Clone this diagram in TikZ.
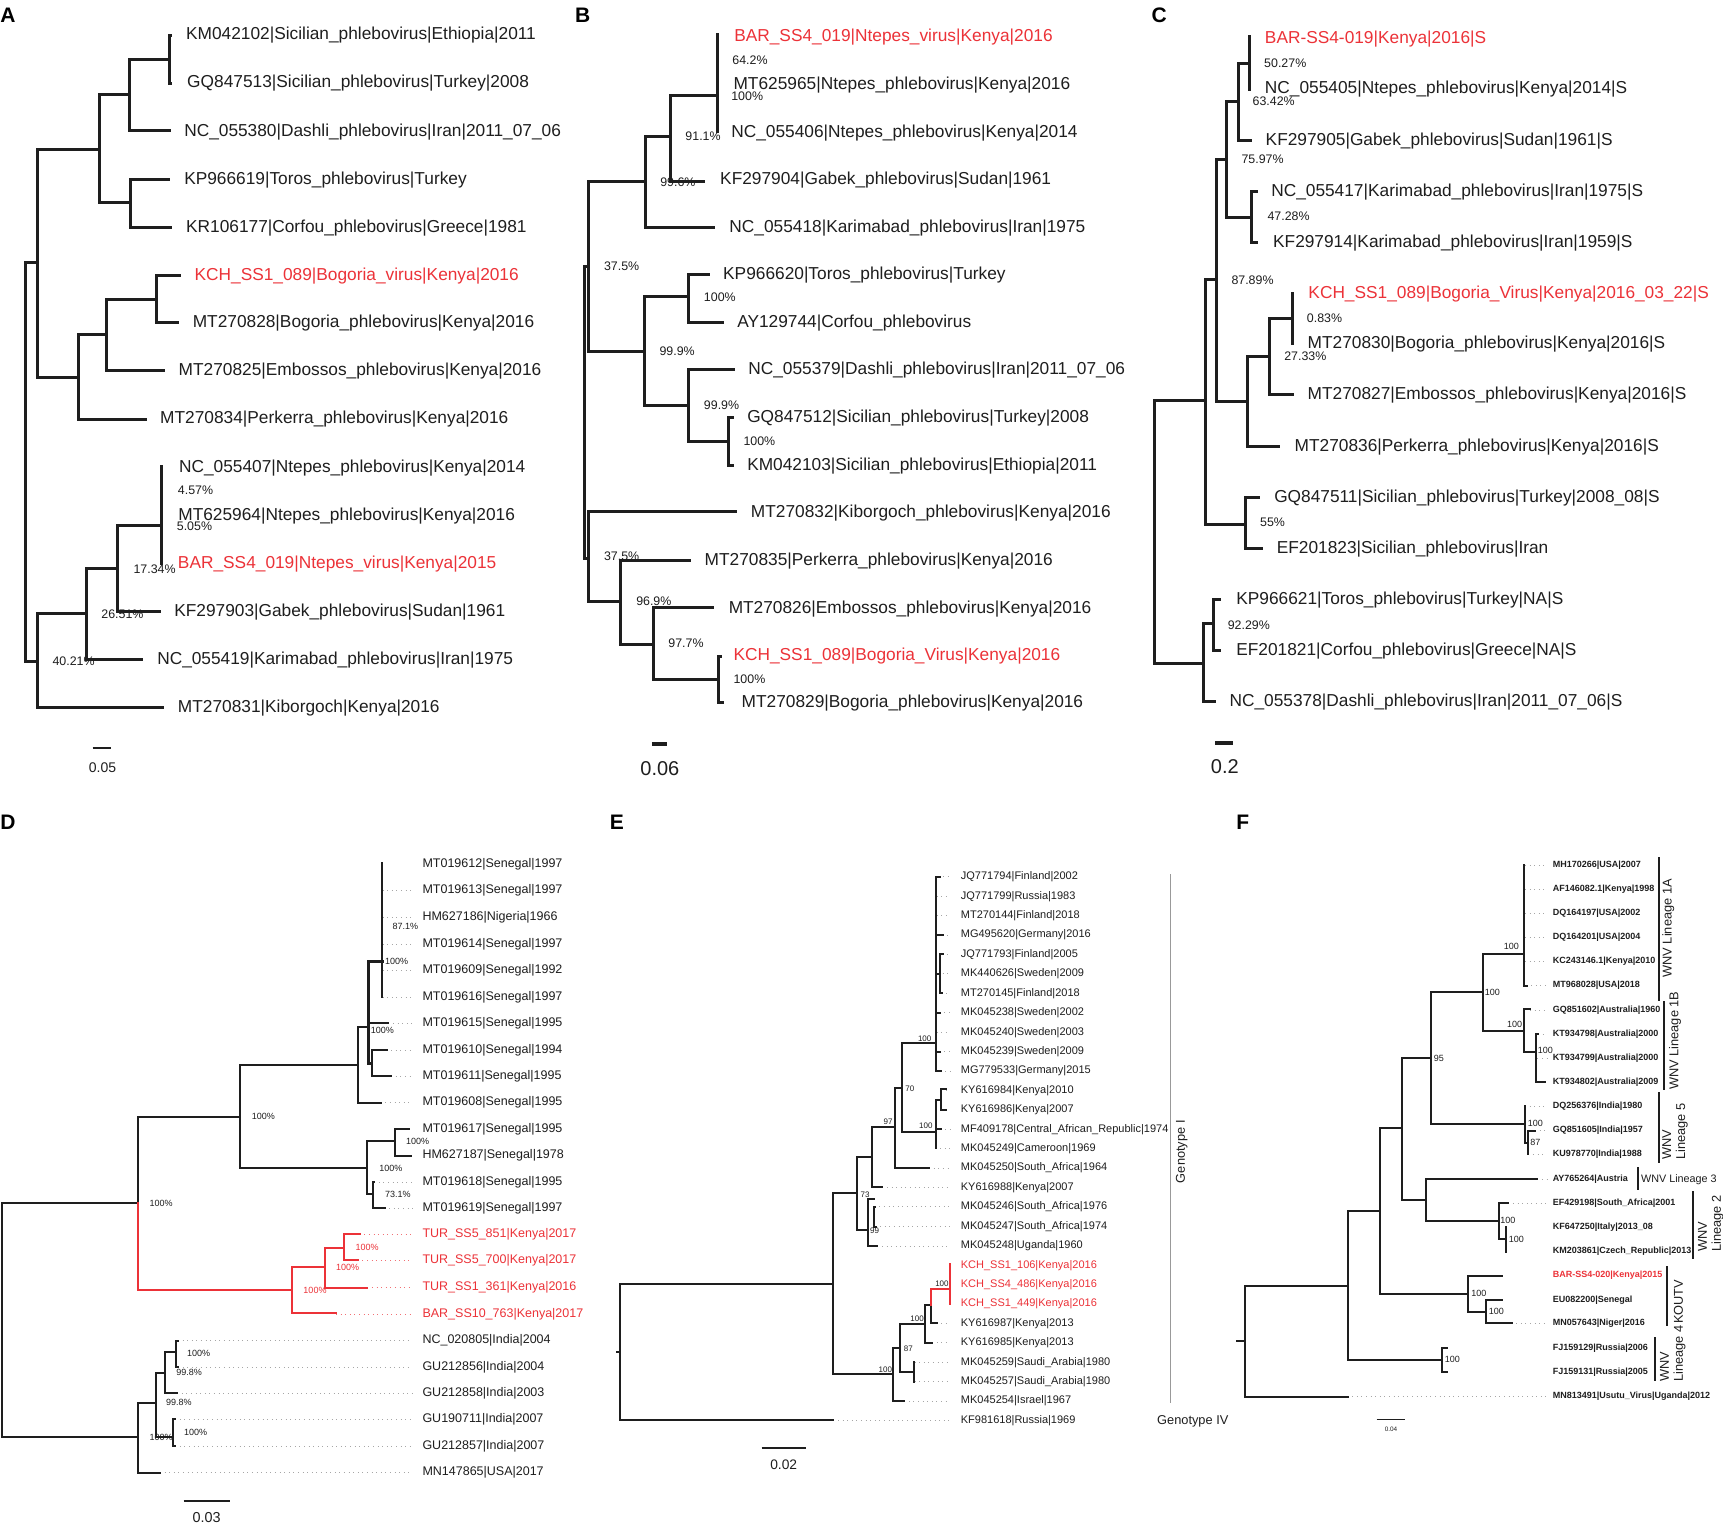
\documentclass[tikz,border=0pt]{standalone}
\usepackage{fontspec}
\setmainfont{Liberation Sans}
\definecolor{vred}{RGB}{236,50,56}
\definecolor{ink}{RGB}{30,30,30}
\tikzset{
 brA/.style={draw=ink,line width=1.5pt,line cap=rect},
 brD/.style={draw=ink,line width=1pt,line cap=rect},
 brF/.style={draw=ink,line width=1.1pt,line cap=rect},
 lfA/.style={anchor=west,inner sep=0pt,text=ink,font=\fontsize{8.65}{9}\selectfont},
 bsA/.style={anchor=west,inner sep=0pt,text=ink,font=\fontsize{6.2}{7}\selectfont},
 lfD/.style={anchor=west,inner sep=0pt,text=ink,font=\fontsize{6.25}{7}\selectfont},
 bsD/.style={anchor=west,inner sep=0pt,text=ink,font=\fontsize{4.5}{5}\selectfont},
 lfE/.style={anchor=west,inner sep=0pt,text=ink,font=\fontsize{5.5}{6}\selectfont},
 bsE/.style={anchor=west,inner sep=0pt,text=ink,font=\fontsize{4}{5}\selectfont},
 lfF/.style={anchor=west,inner sep=0pt,text=ink,font=\fontsize{4.5}{5}\selectfont\bfseries},
 bsF/.style={anchor=west,inner sep=0pt,text=ink,font=\fontsize{4.5}{5}\selectfont},
 grp/.style={inner sep=0pt,text=ink,font=\fontsize{6.4}{7}\selectfont},
 tag/.style={anchor=west,inner sep=0pt,font=\fontsize{10.5}{12}\selectfont\bfseries},
 lead/.style={draw=gray!70,line width=0.3pt,dotted},
 rlead/.style={draw=vred!70,line width=0.3pt,dotted},
 sbar/.style={draw=ink,line width=1pt},
}
\begin{document}
\begin{tikzpicture}
\useasboundingbox (0pt,0pt) rectangle (861.5pt,-761.5pt);
\fill[white] (0pt,0pt) rectangle (861.5pt,-761.5pt);
% ================= Panel A =================
\begin{scope}[shift={(0pt,0pt)},x=0.185pt,y=-0.16667pt]
\node[tag] (tA) at (0,47) {A};
\draw[brA] (462,105) -| (457,250) -- (462,250);
\draw[brA] (457,178) -| (349,392) -- (457,392);
\draw[brA] (349,283) -| (270,607) -- (352,607);
\draw[brA] (455,537) -| (352,683) -- (462,683);
\draw[brA] (270,448) -| (100,1133) -- (212,1133);
\draw[brA] (100,787) -| (68,1985) -- (100,1985);
\draw[brA] (287,1004) -| (212,1257) -- (392,1257);
\draw[brA] (424,897) -| (287,1112) -- (443,1112);
\draw[brA] (485,825) -| (424,968) -- (480,968);
\draw[brA] (233,1840) -| (100,2122) -- (440,2122);
\draw[brA] (318,1705) -| (233,1978) -- (382,1978);
\draw[brA] (437,1577) -| (318,1833) -- (430,1833);
\draw[brA] (437,1400) -- (437,1690);
\node[lfA] (a1) at (502,105) {KM042102|Sicilian\_phlebovirus|Ethiopia|2011};
\node[lfA] (a2) at (505,250) {GQ847513|Sicilian\_phlebovirus|Turkey|2008};
\node[lfA] (a3) at (497,395) {NC\_055380|Dashli\_phlebovirus|Iran|2011\_07\_06};
\node[lfA] (a4) at (497,540) {KP966619|Toros\_phlebovirus|Turkey};
\node[lfA] (a5) at (502,685) {KR106177|Corfou\_phlebovirus|Greece|1981};
\node[lfA,text=vred] (a6) at (525,827) {KCH\_SS1\_089|Bogoria\_virus|Kenya|2016};
\node[lfA] (a7) at (520,970) {MT270828|Bogoria\_phlebovirus|Kenya|2016};
\node[lfA] (a8) at (482,1113) {MT270825|Embossos\_phlebovirus|Kenya|2016};
\node[lfA] (a9) at (432,1258) {MT270834|Perkerra\_phlebovirus|Kenya|2016};
\node[lfA] (a10) at (483,1403) {NC\_055407|Ntepes\_phlebovirus|Kenya|2014};
\node[lfA] (a11) at (481,1547) {MT625964|Ntepes\_phlebovirus|Kenya|2016};
\node[lfA,text=vred] (a12) at (480,1692) {BAR\_SS4\_019|Ntepes\_virus|Kenya|2015};
\node[lfA] (a13) at (470,1835) {KF297903|Gabek\_phlebovirus|Sudan|1961};
\node[lfA] (a14) at (424,1980) {NC\_055419|Karimabad\_phlebovirus|Iran|1975};
\node[lfA] (a15) at (480,2125) {MT270831|Kiborgoch|Kenya|2016};
\node[bsA] (ab1) at (480,1472) {4.57\%};
\node[bsA] (ab2) at (477,1580) {5.05\%};
\node[bsA] (ab3) at (360,1708) {17.34\%};
\node[bsA] (ab4) at (273,1843) {26.51\%};
\node[bsA] (ab5) at (141,1983) {40.21\%};
\draw[sbar] (250,2245) -- (300,2245);
\node[inner sep=0pt,text=ink,font=\fontsize{7}{8}\selectfont] (as) at (277,2303) {0.05};
\end{scope}
% ================= Panel B =================
\begin{scope}[shift={(280pt,0pt)},x=0.185pt,y=-0.16667pt]
\node[tag] (tB) at (40,45) {B};
\draw[brA] (425,103) -- (425,395);
\draw[brA] (425,287) -| (298,543) -- (388,543);
\draw[brA] (298,410) -| (230,683) -- (415,683);
\draw[brA] (230,545) -| (77,1055) -- (228,1055);
\draw[brA] (346,890) -| (228,1215) -- (346,1215);
\draw[brA] (400,823) -| (346,968) -- (440,968);
\draw[brA] (468,1108) -| (346,1323) -- (455,1323);
\draw[brA] (465,1252) -| (455,1395) -- (465,1395);
\draw[brA] (77,800) -| (65,1675) -- (77,1675);
\draw[brA] (475,1535) -| (77,1803) -- (163,1803);
\draw[brA] (350,1680) -| (163,1932) -- (253,1932);
\draw[brA] (413,1823) -| (253,2037) -- (428,2037);
\draw[brA] (435,1968) -| (428,2108) -- (440,2108);
\node[lfA,text=vred] (b1) at (470,110) {BAR\_SS4\_019|Ntepes\_virus|Kenya|2016};
\node[lfA] (b2) at (468,255) {MT625965|Ntepes\_phlebovirus|Kenya|2016};
\node[lfA] (b3) at (462,398) {NC\_055406|Ntepes\_phlebovirus|Kenya|2014};
\node[lfA] (b4) at (432,540) {KF297904|Gabek\_phlebovirus|Sudan|1961};
\node[lfA] (b5) at (457,683) {NC\_055418|Karimabad\_phlebovirus|Iran|1975};
\node[lfA] (b6) at (440,826) {KP966620|Toros\_phlebovirus|Turkey};
\node[lfA] (b7) at (478,970) {AY129744|Corfou\_phlebovirus};
\node[lfA] (b8) at (508,1110) {NC\_055379|Dashli\_phlebovirus|Iran|2011\_07\_06};
\node[lfA] (b9) at (505,1255) {GQ847512|Sicilian\_phlebovirus|Turkey|2008};
\node[lfA] (b10) at (505,1397) {KM042103|Sicilian\_phlebovirus|Ethiopia|2011};
\node[lfA] (b11) at (515,1540) {MT270832|Kiborgoch\_phlebovirus|Kenya|2016};
\node[lfA] (b12) at (390,1683) {MT270835|Perkerra\_phlebovirus|Kenya|2016};
\node[lfA] (b13) at (455,1826) {MT270826|Embossos\_phlebovirus|Kenya|2016};
\node[lfA,text=vred] (b14) at (468,1968) {KCH\_SS1\_089|Bogoria\_Virus|Kenya|2016};
\node[lfA] (b15) at (490,2110) {MT270829|Bogoria\_phlebovirus|Kenya|2016};
\node[bsA] (bb1) at (465,180) {64.2\%};
\node[bsA] (bb2) at (462,290) {100\%};
\node[bsA] (bb3) at (338,410) {91.1\%};
\node[bsA] (bb4) at (270,547) {99.6\%};
\node[bsA] (bb5) at (118,800) {37.5\%};
\node[bsA] (bb6) at (388,893) {100\%};
\node[bsA] (bb7) at (268,1055) {99.9\%};
\node[bsA] (bb8) at (388,1215) {99.9\%};
\node[bsA] (bb9) at (495,1323) {100\%};
\node[bsA] (bb10) at (118,1670) {37.5\%};
\node[bsA] (bb11) at (205,1805) {96.9\%};
\node[bsA] (bb12) at (292,1930) {97.7\%};
\node[bsA] (bb13) at (468,2037) {100\%};
\draw[draw=ink,line width=2pt] (248,2233) -- (290,2233);
\node[inner sep=0pt,text=ink,font=\fontsize{10}{11}\selectfont] (bs) at (270,2305) {0.06};
\end{scope}
% ================= Panel C =================
\begin{scope}[shift={(570pt,0pt)},x=0.1859pt,y=-0.16667pt]
\node[tag] (tC) at (30,45) {C};
\draw[brA] (295,110) -- (295,268);
\draw[brA] (295,190) -| (265,420) -- (298,420);
\draw[brA] (265,305) -| (233,652) -- (300,652);
\draw[brA] (312,575) -| (300,728) -- (312,728);
\draw[brA] (233,478) -| (205,1205) -- (290,1205);
\draw[brA] (347,1070) -| (290,1340) -- (373,1340);
\draw[brA] (410,955) -| (347,1183) -- (410,1183);
\draw[brA] (410,880) -- (410,1030);
\draw[brA] (205,838) -| (177,1572) -- (283,1572);
\draw[brA] (320,1493) -| (283,1645) -- (327,1645);
\draw[brA] (177,1202) -| (40,1990) -- (172,1990);
\draw[brA] (197,1870) -| (172,2105) -- (200,2105);
\draw[brA] (215,1798) -| (197,1952) -- (215,1952);
\node[lfA,text=vred] (c1) at (335,117) {BAR-SS4-019|Kenya|2016|S};
\node[lfA] (c2) at (335,268) {NC\_055405|Ntepes\_phlebovirus|Kenya|2014|S};
\node[lfA] (c3) at (337,422) {KF297905|Gabek\_phlebovirus|Sudan|1961|S};
\node[lfA] (c4) at (352,575) {NC\_055417|Karimabad\_phlebovirus|Iran|1975|S};
\node[lfA] (c5) at (357,728) {KF297914|Karimabad\_phlebovirus|Iran|1959|S};
\node[lfA,text=vred] (c6) at (452,882) {KCH\_SS1\_089|Bogoria\_Virus|Kenya|2016\_03\_22|S};
\node[lfA] (c7) at (450,1033) {MT270830|Bogoria\_phlebovirus|Kenya|2016|S};
\node[lfA] (c8) at (450,1185) {MT270827|Embossos\_phlebovirus|Kenya|2016|S};
\node[lfA] (c9) at (415,1340) {MT270836|Perkerra\_phlebovirus|Kenya|2016|S};
\node[lfA] (c10) at (360,1493) {GQ847511|Sicilian\_phlebovirus|Turkey|2008\_08|S};
\node[lfA] (c11) at (367,1647) {EF201823|Sicilian\_phlebovirus|Iran};
\node[lfA] (c12) at (258,1800) {KP966621|Toros\_phlebovirus|Turkey|NA|S};
\node[lfA] (c13) at (258,1953) {EF201821|Corfou\_phlebovirus|Greece|NA|S};
\node[lfA] (c14) at (240,2105) {NC\_055378|Dashli\_phlebovirus|Iran|2011\_07\_06|S};
\node[bsA] (cb1) at (333,190) {50.27\%};
\node[bsA] (cb2) at (302,305) {63.42\%};
\node[bsA] (cb3) at (272,478) {75.97\%};
\node[bsA] (cb4) at (342,650) {47.28\%};
\node[bsA] (cb5) at (245,840) {87.89\%};
\node[bsA] (cb6) at (448,955) {0.83\%};
\node[bsA] (cb7) at (387,1070) {27.33\%};
\node[bsA] (cb8) at (322,1568) {55\%};
\node[bsA] (cb9) at (235,1875) {92.29\%};
\draw[draw=ink,line width=1.8pt] (203,2228) -- (250,2228);
\node[inner sep=0pt,text=ink,font=\fontsize{10}{11}\selectfont] (cs) at (228,2300) {0.2};
\end{scope}
% ================= Panel D =================
\begin{scope}[shift={(0pt,-400pt)},x=0.19135pt,y=-0.16667pt]
\node[tag] (tD) at (0,68) {D};
\foreach \u/\v in {1000/272,1000/353,1000/432,1000/512,1000/591,1015/670,1010/750,1022/828,995/908,1070/987,1075/1067,978/1147,1005/1225,465/1622,465/1702,463/1780,458/1858,458/1938,418/2018}
  \draw[lead] (\u,\v) -- (1078,\v);
\foreach \u/\v in {940/1303,935/1380,960/1463,878/1542}
  \draw[rlead] (\u,\v) -- (1078,\v);
\draw[brD] (360,1208) -| (5,1912) -- (360,1912);
\draw[brD] (628,950) -| (360,1208);
\draw[brD,draw=vred] (360,1208) |- (763,1470);
\draw[brD] (935,795) -| (628,1105) -- (960,1105);
\draw[brD] (963,680) -| (935,908) -- (995,908);
\draw[brD,line width=1.4pt] (1000,485) -| (963,790) -- (972,790);
\draw[brD] (963,670) -- (1015,670);
\draw[brD] (1010,750) -| (972,828) -- (1022,828);
\draw[brD] (998,190) -- (998,591);
\draw[brD] (1032,1022) -| (960,1183) -- (975,1183);
\draw[brD] (1070,987) -| (1032,1067) -- (1075,1067);
\draw[brD] (978,1147) -| (975,1225) -- (1005,1225);
\draw[brD,draw=vred] (848,1400) -| (763,1540) -- (878,1540);
\draw[brD,draw=vred] (900,1343) -| (848,1463) -- (960,1463);
\draw[brD,draw=vred] (940,1303) -| (900,1380) -- (935,1380);
\draw[brD] (408,1810) -| (360,2018) -- (418,2018);
\draw[brD] (432,1720) -| (408,1912) -- (453,1912);
\draw[brD] (460,1657) -| (432,1780) -- (463,1780);
\draw[brD] (465,1622) -| (460,1702) -- (465,1702);
\draw[brD] (458,1858) -| (453,1938) -- (458,1938);
\node[lfD] (d1) at (1103,193) {MT019612|Senegal|1997};
\node[lfD] (d2) at (1103,272) {MT019613|Senegal|1997};
\node[lfD] (d3) at (1103,353) {HM627186|Nigeria|1966};
\node[lfD] (d4) at (1103,432) {MT019614|Senegal|1997};
\node[lfD] (d5) at (1103,512) {MT019609|Senegal|1992};
\node[lfD] (d6) at (1103,591) {MT019616|Senegal|1997};
\node[lfD] (d7) at (1103,670) {MT019615|Senegal|1995};
\node[lfD] (d8) at (1103,750) {MT019610|Senegal|1994};
\node[lfD] (d9) at (1103,828) {MT019611|Senegal|1995};
\node[lfD] (d10) at (1103,908) {MT019608|Senegal|1995};
\node[lfD] (d11) at (1103,987) {MT019617|Senegal|1995};
\node[lfD] (d12) at (1103,1067) {HM627187|Senegal|1978};
\node[lfD] (d13) at (1103,1147) {MT019618|Senegal|1995};
\node[lfD] (d14) at (1103,1225) {MT019619|Senegal|1997};
\node[lfD,text=vred] (d15) at (1103,1303) {TUR\_SS5\_851|Kenya|2017};
\node[lfD,text=vred] (d16) at (1103,1380) {TUR\_SS5\_700|Kenya|2017};
\node[lfD,text=vred] (d17) at (1103,1463) {TUR\_SS1\_361|Kenya|2016};
\node[lfD,text=vred] (d18) at (1103,1542) {BAR\_SS10\_763|Kenya|2017};
\node[lfD] (d19) at (1103,1622) {NC\_020805|India|2004};
\node[lfD] (d20) at (1103,1702) {GU212856|India|2004};
\node[lfD] (d21) at (1103,1780) {GU212858|India|2003};
\node[lfD] (d22) at (1103,1858) {GU190711|India|2007};
\node[lfD] (d23) at (1103,1938) {GU212857|India|2007};
\node[lfD] (d24) at (1103,2018) {MN147865|USA|2017};
\node[bsD] (db1) at (1025,380) {87.1\%};
\node[bsD] (db2) at (1005,485) {100\%};
\node[bsD] (db3) at (968,690) {100\%};
\node[bsD] (db4) at (657,950) {100\%};
\node[bsD] (db5) at (1060,1025) {100\%};
\node[bsD] (db6) at (990,1105) {100\%};
\node[bsD] (db7) at (1005,1183) {73.1\%};
\node[bsD] (db8) at (390,1210) {100\%};
\node[bsD,text=vred] (db9) at (928,1343) {100\%};
\node[bsD,text=vred] (db10) at (877,1402) {100\%};
\node[bsD,text=vred] (db11) at (792,1472) {100\%};
\node[bsD] (db12) at (488,1660) {100\%};
\node[bsD] (db13) at (460,1718) {99.8\%};
\node[bsD] (db14) at (433,1808) {99.8\%};
\node[bsD] (db15) at (480,1898) {100\%};
\node[bsD] (db16) at (390,1912) {100\%};
\draw[sbar] (480,2102) -- (600,2102);
\node[inner sep=0pt,text=ink,font=\fontsize{7.2}{8}\selectfont] (ds) at (540,2153) {0.03};
\end{scope}
% ================= Panel E =================
\begin{scope}[shift={(300pt,-400pt)},x=0.19135pt,y=-0.16667pt]
\node[tag] (tE) at (25,68) {E};
\foreach \u/\v in {885/230,880/289,880/347,895/405,895/463,895/521,893/580,888/638,880/697,888/755,890/813,905/872,905/930,890/988,877/1045,860/1104,738/1162,718/1220,720/1280,725/1338,880/1570,868/1628,822/1687,822/1745,795/1803,610/1861}
  \draw[lead] (\u,\v) -- (915,\v);
\draw[brD] (44,1655) -- (52,1655);
\draw[brD] (608,1453) -| (52,1860) -- (610,1860);
\draw[brD] (672,1180) -| (608,1722) -- (765,1722);
\draw[brD] (710,1070) -| (672,1290) -- (700,1290);
\draw[brD] (772,982) -| (710,1162) -- (738,1162);
\draw[brD] (790,865) -| (772,1104) -- (860,1104);
\draw[brD] (878,730) -| (790,995) -- (877,995);
\draw[brD,line width=0.6pt] (878,230) -- (878,813);
\draw[brD] (878,230) -- (888,230);
\draw[brD] (878,405) -- (895,405);
\draw[brD] (878,521) -- (888,521);
\draw[brD] (895,463) -| (888,580) -- (893,580);
\draw[brD] (878,638) -- (888,638);
\draw[brD] (878,755) -- (888,755);
\draw[brD] (878,813) -- (890,813);
\draw[brD] (890,900) -| (877,1045);
\draw[brD] (877,988) -- (890,988);
\draw[brD] (905,868) -| (890,930) -- (905,930);
\draw[brD] (715,1198) -| (700,1338) -- (725,1338);
\draw[brD] (718,1220) -| (715,1280) -- (720,1280);
\draw[brD] (785,1643) -| (765,1803) -- (795,1803);
\draw[brD] (850,1572) -| (785,1715) -- (820,1715);
\draw[brD] (820,1687) -- (820,1745);
\draw[brD] (865,1515) -| (850,1628) -- (868,1628);
\draw[brD] (865,1515) -- (865,1570) -- (880,1570);
\draw[brD,draw=vred] (865,1515) |- (915,1468);
\draw[brD,draw=vred] (915,1392) -- (915,1512);
\node[lfE] (e1) at (942,230) {JQ771794|Finland|2002};
\node[lfE] (e2) at (942,289) {JQ771799|Russia|1983};
\node[lfE] (e3) at (942,347) {MT270144|Finland|2018};
\node[lfE] (e4) at (942,405) {MG495620|Germany|2016};
\node[lfE] (e5) at (942,463) {JQ771793|Finland|2005};
\node[lfE] (e6) at (942,521) {MK440626|Sweden|2009};
\node[lfE] (e7) at (942,580) {MT270145|Finland|2018};
\node[lfE] (e8) at (942,638) {MK045238|Sweden|2002};
\node[lfE] (e9) at (942,697) {MK045240|Sweden|2003};
\node[lfE] (e10) at (942,755) {MK045239|Sweden|2009};
\node[lfE] (e11) at (942,813) {MG779533|Germany|2015};
\node[lfE] (e12) at (942,872) {KY616984|Kenya|2010};
\node[lfE] (e13) at (942,930) {KY616986|Kenya|2007};
\node[lfE] (e14) at (942,988) {MF409178|Central\_African\_Republic|1974};
\node[lfE] (e15) at (942,1045) {MK045249|Cameroon|1969};
\node[lfE] (e16) at (942,1104) {MK045250|South\_Africa|1964};
\node[lfE] (e17) at (942,1162) {KY616988|Kenya|2007};
\node[lfE] (e18) at (942,1220) {MK045246|South\_Africa|1976};
\node[lfE] (e19) at (942,1280) {MK045247|South\_Africa|1974};
\node[lfE] (e20) at (942,1338) {MK045248|Uganda|1960};
\node[lfE,text=vred] (e21) at (942,1397) {KCH\_SS1\_106|Kenya|2016};
\node[lfE,text=vred] (e22) at (942,1455) {KCH\_SS4\_486|Kenya|2016};
\node[lfE,text=vred] (e23) at (942,1512) {KCH\_SS1\_449|Kenya|2016};
\node[lfE] (e24) at (942,1570) {KY616987|Kenya|2013};
\node[lfE] (e25) at (942,1628) {KY616985|Kenya|2013};
\node[lfE] (e26) at (942,1687) {MK045259|Saudi\_Arabia|1980};
\node[lfE] (e27) at (942,1745) {MK045257|Saudi\_Arabia|1980};
\node[lfE] (e28) at (942,1803) {MK045254|Israel|1967};
\node[lfE] (e29) at (942,1861) {KF981618|Russia|1969};
\node[bsE] (eb1) at (830,715) {100};
\node[bsE] (eb2) at (797,865) {70};
\node[bsE] (eb3) at (740,965) {97};
\node[bsE] (eb4) at (833,978) {100};
\node[bsE] (eb5) at (680,1183) {73};
\node[bsE] (eb6) at (705,1293) {99};
\node[bsE] (eb7) at (875,1452) {100};
\node[bsE] (eb8) at (810,1555) {100};
\node[bsE] (eb9) at (793,1645) {87};
\node[bsE] (eb10) at (727,1708) {100};
\draw[draw=gray!80,line width=0.4pt] (1490,222) -- (1490,1810);
\node[grp,rotate=90] (g1) at (1520,1055) {Genotype I};
\node[grp,anchor=west] (g2) at (1455,1863) {Genotype IV};
\draw[sbar] (422,1943) -- (538,1943);
\node[inner sep=0pt,text=ink,font=\fontsize{6.9}{8}\selectfont] (es) at (480,1995) {0.02};
\end{scope}
% ================= Panel F =================
\begin{scope}[shift={(600pt,-400pt)},x=0.16667pt,y=-0.16667pt]
\node[tag] (tF) at (108,68) {F};
\foreach \u/\v in {975/195,975/268,975/340,975/412,975/485,980/557,990/630,1015/702,1012/774,1035/846,975/918,1005/992,985/1063,1012/1138,925/1210,935/1570,443/1790}
  \draw[lead] (\u,\v) -- (1040,\v);
\draw[brF] (110,1623) -- (135,1623);
\draw[brF] (443,1458) -| (135,1790) -- (443,1790);
\draw[brF] (540,1233) -| (443,1680) -- (725,1680);
\draw[brF] (740,1645) -| (725,1717) -- (740,1717);
\draw[brF] (605,985) -| (540,1482) -- (805,1482);
\draw[brF] (905,1427) -| (805,1537) -- (858,1537);
\draw[brF] (905,1500) -| (858,1570) -- (935,1570);
\draw[brF] (692,775) -| (605,1200) -- (677,1200);
\draw[brF] (1012,1138) -| (677,1263) -- (897,1263);
\draw[brF] (925,1208) -| (897,1318) -- (917,1318);
\draw[brF] (917,1280) -- (917,1355);
\draw[brF] (848,575) -| (692,972) -- (975,972);
\draw[brF] (975,918) -- (975,1030) -- (985,1030);
\draw[brF] (1005,992) -| (985,1063);
\draw[brF] (970,462) -| (848,692) -- (972,692);
\draw[brF] (972,195) -- (972,557) -- (980,557);
\draw[brF] (990,628) -| (972,755) -- (1008,755);
\draw[brF] (1015,702) -| (1008,846) -- (1035,846);
\node[lfF] (f1) at (1057,195) {MH170266|USA|2007};
\node[lfF] (f2) at (1057,268) {AF146082.1|Kenya|1998};
\node[lfF] (f3) at (1057,340) {DQ164197|USA|2002};
\node[lfF] (f4) at (1057,412) {DQ164201|USA|2004};
\node[lfF] (f5) at (1057,485) {KC243146.1|Kenya|2010};
\node[lfF] (f6) at (1057,557) {MT968028|USA|2018};
\node[lfF] (f7) at (1057,630) {GQ851602|Australia|1960};
\node[lfF] (f8) at (1057,702) {KT934798|Australia|2000};
\node[lfF] (f9) at (1057,774) {KT934799|Australia|2000};
\node[lfF] (f10) at (1057,846) {KT934802|Australia|2009};
\node[lfF] (f11) at (1057,918) {DQ256376|India|1980};
\node[lfF] (f12) at (1057,992) {GQ851605|India|1957};
\node[lfF] (f13) at (1057,1063) {KU978770|India|1988};
\node[lfF] (f14) at (1057,1138) {AY765264|Austria};
\node[lfF] (f15) at (1057,1210) {EF429198|South\_Africa|2001};
\node[lfF] (f16) at (1057,1282) {KF647250|Italy|2013\_08};
\node[lfF] (f17) at (1057,1353) {KM203861|Czech\_Republic|2013};
\node[lfF,text=vred] (f18) at (1057,1427) {BAR-SS4-020|Kenya|2015};
\node[lfF] (f19) at (1057,1500) {EU082200|Senegal};
\node[lfF] (f20) at (1057,1570) {MN057643|Niger|2016};
\node[lfF] (f21) at (1057,1645) {FJ159129|Russia|2006};
\node[lfF] (f22) at (1057,1717) {FJ159131|Russia|2005};
\node[lfF] (f23) at (1057,1790) {MN813491|Usutu\_Virus|Uganda|2012};
\node[bsF] (fb1) at (910,440) {100};
\node[bsF] (fb2) at (853,577) {100};
\node[bsF] (fb3) at (920,672) {100};
\node[bsF] (fb4) at (1012,752) {100};
\node[bsF] (fb5) at (700,775) {95};
\node[bsF] (fb6) at (982,970) {100};
\node[bsF] (fb7) at (990,1028) {87};
\node[bsF] (fb8) at (900,1260) {100};
\node[bsF] (fb9) at (925,1317) {100};
\node[bsF] (fb10) at (813,1480) {100};
\node[bsF] (fb11) at (865,1535) {100};
\node[bsF] (fb12) at (733,1678) {100};
\draw[brF] (1378,175) -- (1378,600);
\node[grp,rotate=90] (fg1) at (1405,385) {WNV Lineage 1A};
\draw[brF] (1392,605) -- (1392,868);
\node[grp,rotate=90] (fg2) at (1425,722) {WNV Lineage 1B};
\draw[brF] (1378,878) -- (1378,1085);
\node[grp,rotate=90,align=left] (fg3) at (1425,995) {WNV\\Lineage 5};
\draw[brF] (1315,1105) -- (1315,1168);
\node[grp,anchor=west,font=\fontsize{5.4}{6}\selectfont] (fg4) at (1322,1138) {WNV Lineage 3};
\draw[brF] (1480,1175) -- (1480,1375);
\node[grp,rotate=90,align=left] (fg5) at (1532,1270) {WNV\\Lineage 2};
\draw[brF] (1400,1400) -- (1400,1575);
\node[grp,rotate=90] (fg6) at (1435,1505) {KOUTV};
\draw[brF] (1365,1615) -- (1365,1740);
\node[grp,rotate=90,align=left] (fg7) at (1418,1660) {WNV\\Lineage 4};
\draw[draw=ink,line width=0.5pt] (530,1858) -- (615,1858);
\node[inner sep=0pt,text=ink,font=\fontsize{3.2}{4}\selectfont] (fs) at (573,1887) {0.04};
\end{scope}
\end{tikzpicture}
\end{document}
